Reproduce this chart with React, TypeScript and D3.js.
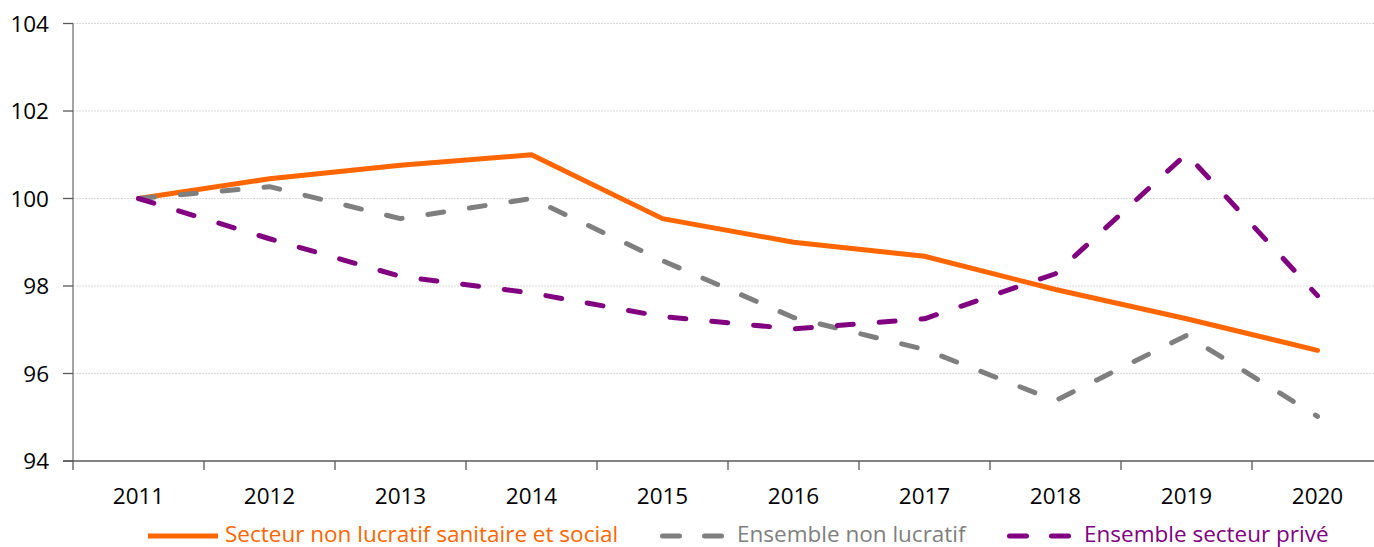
import React from 'react';
import { scaleBand, scaleLinear, line } from 'd3';

const years = ['2011', '2012', '2013', '2014', '2015', '2016', '2017', '2018', '2019', '2020'];
const nonLucratifSanitaire = [100, 100.45, 100.76, 101.0, 99.54, 99.0, 98.68, 97.92, 97.25, 96.53];
const ensembleNonLucratif = [100, 100.27, 99.54, 100.0, 98.58, 97.28, 96.55, 95.38, 96.87, 95.02];
const ensemblePrive = [100, 99.08, 98.22, 97.84, 97.3, 97.02, 97.25, 98.28, 101.02, 97.78];
const yTicks = [94, 96, 98, 100, 102, 104];

const series = [
  { name: 'Secteur non lucratif sanitaire et social', values: nonLucratifSanitaire, color: '#ff6600', dashed: false },
  { name: 'Ensemble non lucratif', values: ensembleNonLucratif, color: '#7f7f7f', dashed: true },
  { name: 'Ensemble secteur privé', values: ensemblePrive, color: '#800080', dashed: true },
];

const legendPos = [148, 660, 1007];

export default function App() {
  const width = 1374;
  const height = 547;
  const font = '"Open Sans", "Noto Sans", sans-serif';
  const fs = 22.5;

  const x = scaleBand<string>().domain(years).range([73, 1383]).padding(0);
  const y = scaleLinear().domain([94, 104]).range([461, 23.5]);

  const path = line<number>()
    .x((_, i) => (x(years[i]) as number) + x.bandwidth() / 2)
    .y((d) => y(d));

  return (
    <svg width={width} height={height} style={{ position: 'absolute', left: 0, top: 0, background: '#fff' }}>
      {/* gridlines */}
      {yTicks.filter((t) => t !== 94).map((t) => (
        <line key={t} x1={73} x2={1374} y1={y(t)} y2={y(t)} stroke="#d9d9d9" strokeWidth={1} strokeDasharray="2 1" />
      ))}
      {/* y axis */}
      <line x1={73} x2={73} y1={y(104)} y2={y(94)} stroke="#868686" strokeWidth={1.5} />
      {yTicks.map((t) => (
        <g key={t}>
          <line x1={63} x2={73} y1={y(t)} y2={y(t)} stroke="#595959" strokeWidth={1.3} />
          <text x={49} y={y(t)} dy="0.36em" textAnchor="end" fontFamily={font} fontSize={fs} fill="#000">
            {t}
          </text>
        </g>
      ))}
      {/* x axis */}
      <line x1={63} x2={1374} y1={y(94)} y2={y(94)} stroke="#595959" strokeWidth={1.3} />
      {years.map((yr) => (
        <g key={yr}>
          <line x1={x(yr)} x2={x(yr)} y1={y(94)} y2={y(94) + 9} stroke="#595959" strokeWidth={1.3} />
          <text x={(x(yr) as number) + x.bandwidth() / 2} y={504} textAnchor="middle" fontFamily={font} fontSize={fs} fill="#000">
            {yr}
          </text>
        </g>
      ))}
      {/* series */}
      {series.map((s) => (
        <path
          key={s.name}
          d={path(s.values) || ''}
          fill="none"
          stroke={s.color}
          strokeWidth={5}
          strokeLinecap="round"
          strokeLinejoin="round"
          strokeDasharray={s.dashed ? '16 26' : undefined}
        />
      ))}
      {/* legend */}
      {series.map((s, i) => (
        <g key={s.name}>
          <line
            x1={s.dashed ? legendPos[i] + 2.5 : legendPos[i]}
            x2={s.dashed ? legendPos[i] + 61.5 : legendPos[i] + 70}
            y1={536}
            y2={536}
            stroke={s.color}
            strokeWidth={5}
            strokeLinecap={s.dashed ? 'round' : 'butt'}
            strokeDasharray={s.dashed ? '17 25' : undefined}
          />
          <text x={legendPos[i] + 77} y={541.5} fontFamily={font} fontSize={fs} fill={s.color}>
            {s.name}
          </text>
        </g>
      ))}
    </svg>
  );
}
